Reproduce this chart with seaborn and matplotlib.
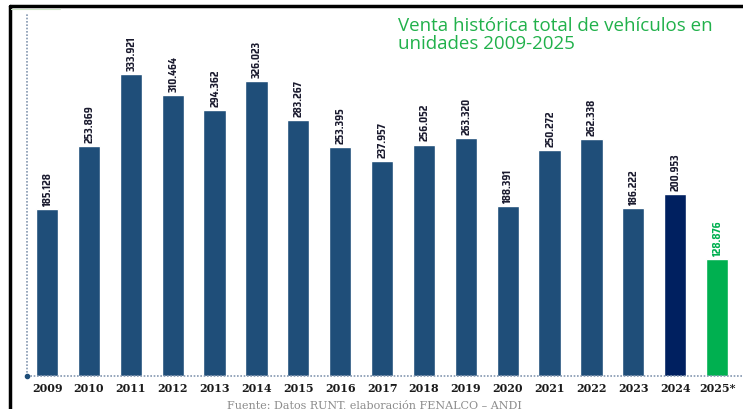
import matplotlib
matplotlib.use('Agg')

import matplotlib.pyplot as plt
import pandas as pd
import seaborn as sns
from matplotlib.lines import Line2D

# Data
years = ["2009", "2010", "2011", "2012", "2013", "2014", "2015", "2016", "2017",
         "2018", "2019", "2020", "2021", "2022", "2023", "2024", "2025*"]
units = [185128, 253869, 333921, 310464, 294362, 326023, 283267, 253395, 237957,
         256052, 263320, 188391, 250272, 262338, 186222, 200953, 128876]
labels = ["185.128", "253.869", "333.921", "310.464", "294.362", "326.023", "283.267",
          "253.395", "237.957", "256.052", "263.320", "188.391", "250.272", "262.338",
          "186.222", "200.953", "128.876"]

title = "Venta histórica total de vehículos en\nunidades 2009-2025"
source = "Fuente: Datos RUNT, elaboración FENALCO – ANDI"

# Colors
blue = "#1F4E79"
navy = "#002060"
green = "#00B050"
bar_colors = {y: blue for y in years}
bar_colors["2024"] = navy
bar_colors["2025*"] = green

df = pd.DataFrame({"year": years, "units": units})

sns.set_style("white")

fig = plt.figure(figsize=(7.43, 4.10), dpi=100)
ax = fig.add_axes([27 / 743, 33 / 410, 1 - 27 / 743, 362 / 410])

sns.barplot(data=df, x="year", y="units", hue="year", palette=bar_colors,
            width=0.53, legend=False, saturation=1, ax=ax)

ax.set_ylim(0, 400400)
ax.set_xlim(-0.48, 16.62)

# value labels above bars (narrow bold font)
for i, (v, lab) in enumerate(zip(units, labels)):
    col = green if years[i] == "2025*" else "#1a1a2e"
    ax.text(i, v + 4500, lab, rotation=90, ha="center", va="bottom",
            fontsize=7.5, fontweight="bold", color=col,
            family=["Saira SemiCondensed", "DejaVu Sans"])

# axes styling: dotted left axis and baseline
for s in ax.spines.values():
    s.set_visible(False)
ax.axvline(-0.48, color="#8497B0", linestyle=(0, (1, 1)), linewidth=1.2, clip_on=False)
ax.axhline(0, color="#8497B0", linestyle=(0, (1, 1)), linewidth=1.2, clip_on=False)
ax.plot([-0.48], [0], marker="o", markersize=3, color="#1F4E79", clip_on=False)

ax.set_yticks([])
ax.set_xlabel("")
ax.set_ylabel("")
ax.tick_params(axis="x", length=0, pad=4)
for t in ax.get_xticklabels():
    t.set_family("DejaVu Serif")
    t.set_fontweight("bold")
    t.set_fontsize(8)
    t.set_color("#1a1a1a")

# title
fig.text(398 / 743, 1 - 17 / 410, title, ha="left", va="top", color="#21B14B",
         fontsize=13.5, family="Open Sans", linespacing=1.0)

# source (cut off at the bottom edge, as in the original)
fig.text(374 / 743, 1 - 399 / 410, source, ha="center", va="top",
         color="#8C8C8C", fontsize=8, family="DejaVu Serif")

# frame lines at top and left
fig.add_artist(Line2D([10 / 743, 1], [1 - 7 / 410, 1 - 7 / 410], color="black",
                      linewidth=2.5, transform=fig.transFigure))
fig.add_artist(Line2D([10 / 743, 10 / 743], [0, 1 - 7 / 410], color="black",
                      linewidth=2.5, transform=fig.transFigure))
fig.add_artist(Line2D([11 / 743, 60 / 743], [1 - 10 / 410, 1 - 10 / 410],
                      color="#cfe5c8", linewidth=0.8, transform=fig.transFigure))

plt.savefig("out.png", dpi=100)
